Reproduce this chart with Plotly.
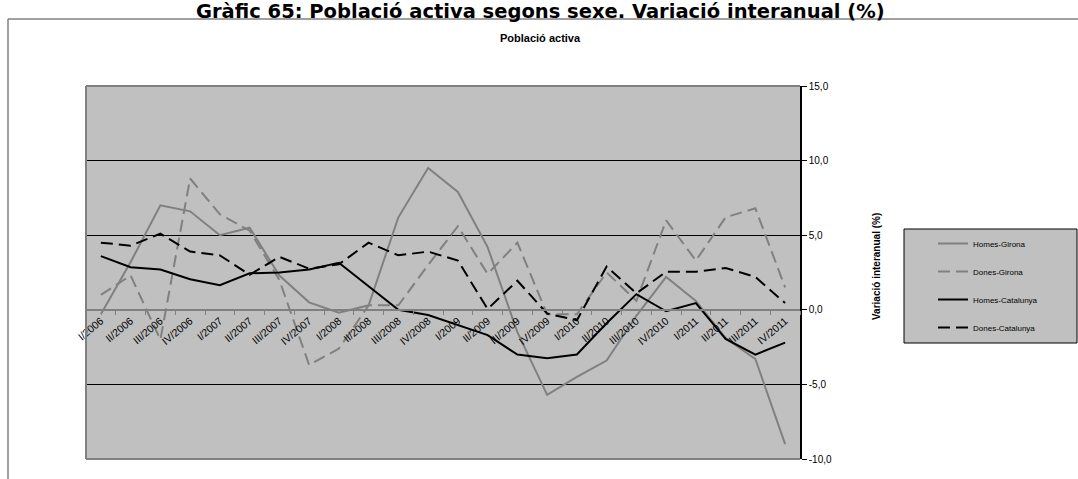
import plotly.graph_objects as go

quarters = ["I/2006", "II/2006", "III/2006", "IV/2006",
            "I/2007", "II/2007", "III/2007", "IV/2007",
            "I/2008", "II/2008", "III/2008", "IV/2008",
            "I/2009", "II/2009", "III/2009", "IV/2009",
            "I/2010", "II/2010", "III/2010", "IV/2010",
            "I/2011", "II/2011", "III/2011", "IV/2011"]

homes_girona = [-0.3, 3.2, 7.0, 6.6, 5.0, 5.5, 2.3, 0.5, -0.2, 0.3, 6.2, 9.5,
                7.9, 4.2, -1.5, -5.7, -4.5, -3.4, -0.4, 2.2, 0.6, -1.9, -3.3, -9.0]
dones_girona = [1.0, 2.3, -2.0, 8.8, 6.4, 5.3, 2.0, -3.7, -2.6, 0.3, 0.3, 3.0,
                5.6, 2.4, 4.5, -0.3, -0.3, 2.5, 0.6, 6.0, 3.3, 6.2, 6.8, 1.5]
homes_catalunya = [3.6, 2.85, 2.7, 2.05, 1.65, 2.45, 2.5, 2.7, 3.15, 1.55, 0.0, -0.35,
                   -1.0, -1.7, -3.0, -3.25, -3.0, -0.9, 1.05, -0.1, 0.45, -1.95, -3.0, -2.2]
dones_catalunya = [4.5, 4.3, 5.1, 3.9, 3.65, 2.35, 3.55, 2.75, 3.05, 4.5, 3.65, 3.9,
                   3.3, 0.05, 1.95, -0.25, -0.7, 2.9, 1.1, 2.55, 2.55, 2.8, 2.2, 0.45]

series_names = ["Homes-Girona", "Dones-Girona", "Homes-Catalunya", "Dones-Catalunya"]
y_ticks = [-10, -5, 0, 5, 10, 15]
y_tick_labels = ["-10,0", "-5,0", "0,0", "5,0", "10,0", "15,0"]

W, H = 1078, 479
L, R, T, B = 86, 800, 86, 459  # plot area in pixels


def px(x):
    return (x - L) / (R - L)


def py(y):
    return (B - y) / (B - T)


fig = go.Figure()
styles = [
    dict(color="#808080", dash="solid"),
    dict(color="#808080", dash="12px,6px"),
    dict(color="#000000", dash="solid"),
    dict(color="#000000", dash="12px,6px"),
]
for name, vals, st in zip(series_names,
                          [homes_girona, dones_girona, homes_catalunya, dones_catalunya],
                          styles):
    fig.add_trace(go.Scatter(
        x=quarters, y=vals, mode="lines", name=name, legendgroup=name,
        line=dict(color=st["color"], dash=st["dash"], width=2),
    ))

shapes = [
    # legend box
    dict(type="rect", xref="paper", yref="paper", x0=px(904), x1=px(1077), y0=py(343), y1=py(229),
         fillcolor="#C0C0C0", line=dict(color="black", width=1), layer="below"),
    # plot border (top, left, bottom)
    dict(type="line", xref="paper", yref="paper", x0=0, x1=1, y0=1, y1=1,
         line=dict(color="#808080", width=2)),
    dict(type="line", xref="paper", yref="paper", x0=0, x1=0, y0=0, y1=1,
         line=dict(color="#808080", width=2)),
    dict(type="line", xref="paper", yref="paper", x0=0, x1=1, y0=0, y1=0,
         line=dict(color="#808080", width=2)),
    # outer frame
    dict(type="line", xref="paper", yref="paper", x0=px(8), x1=px(1078), y0=py(19), y1=py(19),
         line=dict(color="#808080", width=1.5)),
    dict(type="line", xref="paper", yref="paper", x0=px(8), x1=px(8), y0=py(19), y1=py(479),
         line=dict(color="#808080", width=1.5)),
]

annotations = [
    dict(text="<b>Gràfic 65: Població activa segons sexe. Variació interanual (%)</b>",
         xref="paper", yref="paper", x=px(540), y=py(-2), xanchor="center", yanchor="top",
         showarrow=False, font=dict(family="DejaVu Sans, sans-serif", size=19.5, color="black")),
    dict(text="<b>Població activa</b>", xref="paper", yref="paper", x=px(540), y=py(38),
         xanchor="center", yanchor="middle", showarrow=False,
         font=dict(family="Arial, Liberation Sans, sans-serif", size=11, color="black")),
    dict(text="<b>Variació interanual (%)</b>", xref="paper", yref="paper", x=px(876), y=py(267),
         xanchor="center", yanchor="middle", textangle=-90, showarrow=False,
         font=dict(family="Arial, Liberation Sans, sans-serif", size=10, color="black")),
]

fig.update_layout(
    width=W, height=H,
    margin=dict(l=L, r=W - R, t=T, b=H - B, pad=0),
    paper_bgcolor="white", plot_bgcolor="#C0C0C0",
    font=dict(family="Arial, Liberation Sans, sans-serif", size=10, color="black"),
    showlegend=True,
    legend=dict(x=px(933), y=py(229), xanchor="left", yanchor="top",
                bgcolor="rgba(0,0,0,0)", borderwidth=0, tracegroupgap=9,
                font=dict(size=8, color="black")),
    shapes=shapes, annotations=annotations,
    xaxis=dict(type="category", categoryorder="array", categoryarray=quarters,
               range=[-0.5, len(quarters) - 0.5], anchor="free", position=0.4,
               showline=True, linecolor="#808080", linewidth=2,
               ticks="outside", ticklen=4, tickcolor="#808080", tickson="boundaries",
               showgrid=False, tickangle=-40, tickfont=dict(size=10.5, color="black"),
               zeroline=False),
    yaxis=dict(range=[-10, 15], side="right", anchor="x",
               showline=True, linecolor="black", linewidth=1.5,
               ticks="outside", ticklen=5, tickcolor="black",
               tickvals=y_ticks, ticktext=y_tick_labels,
               showgrid=True, gridcolor="black", gridwidth=1, zeroline=False,
               tickfont=dict(size=10, color="black")),
)

fig.write_html("out.html", config={"displayModeBar": False},
               post_script="document.body.style.margin='0';document.body.style.overflow='hidden';")
